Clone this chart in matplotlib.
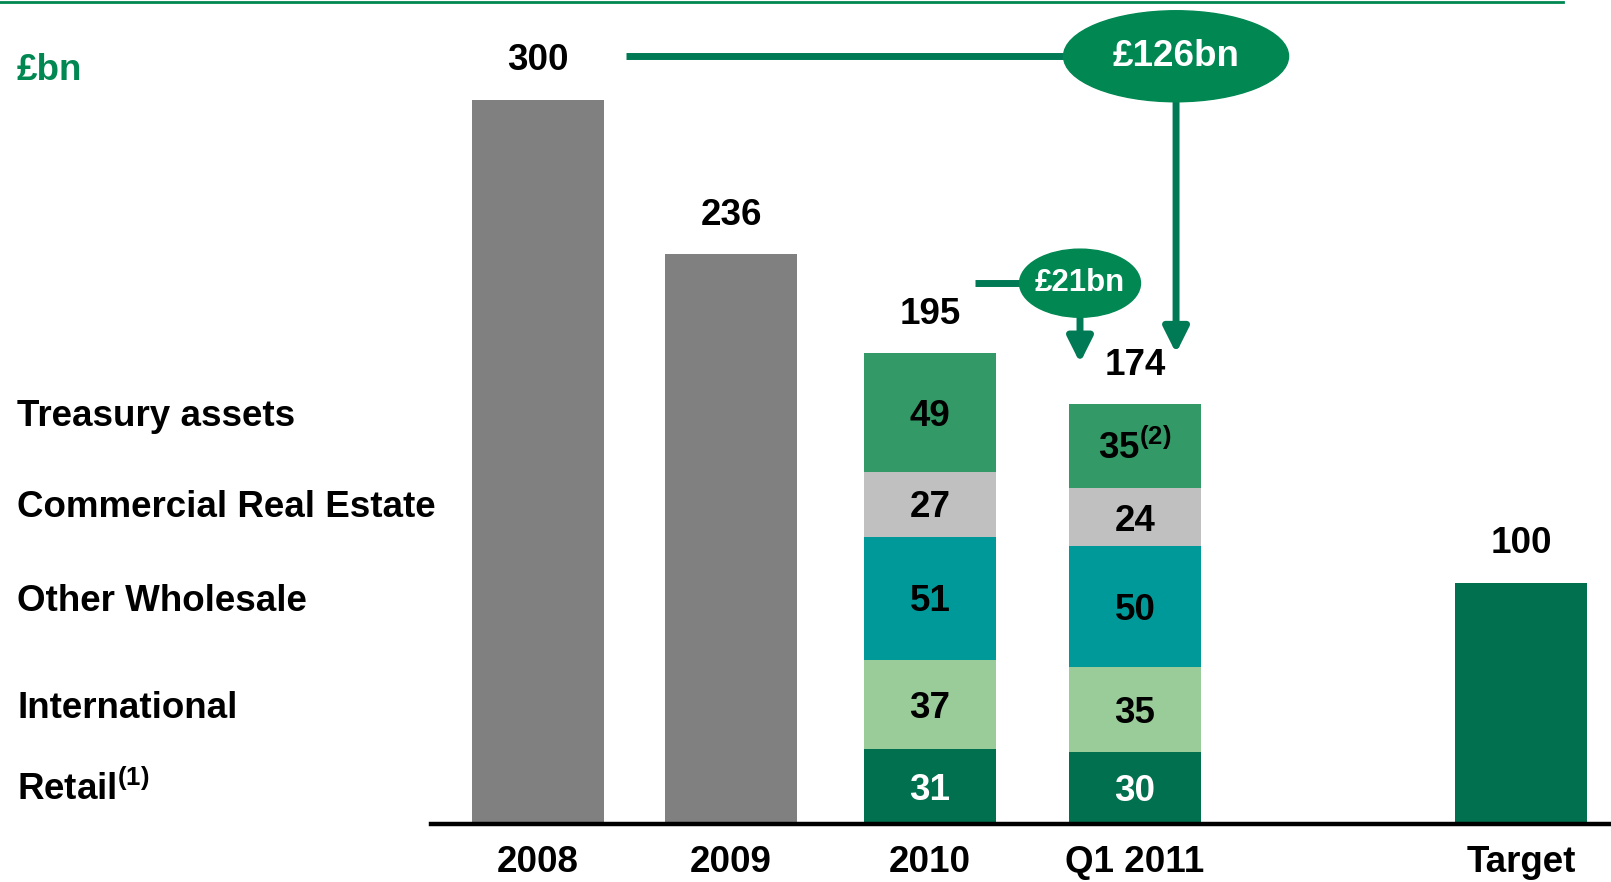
import matplotlib
matplotlib.use('Agg')
import matplotlib.pyplot as plt
import matplotlib.transforms as mtransforms
from matplotlib.lines import Line2D
from matplotlib.patches import Ellipse
import numpy as np

plt.rcParams['font.family'] = 'Liberation Sans'
plt.rcParams['font.weight'] = 'bold'
plt.rcParams['mathtext.fontset'] = 'custom'
plt.rcParams['mathtext.rm'] = 'Liberation Sans:bold'
plt.rcParams['mathtext.it'] = 'Liberation Sans:bold'
plt.rcParams['mathtext.bf'] = 'Liberation Sans:bold'

# data (GBP bn)
periods = ['2008', '2009', '2010', 'Q1 2011', 'Target']
totals = [300, 236, 195, 174, 100]

segments = ['Retail$^{(1)}$', 'International', 'Other Wholesale',
            'Commercial Real Estate', 'Treasury assets']
seg_2010 = [31, 37, 51, 27, 49]
seg_q1_2011 = [30, 35, 50, 24, 35]
seg_q1_2011_labels = ['30', '35', '50', '24', '35$^{(2)}$']

reduction_total = '£126bn'
reduction_q1 = '£21bn'

# layout: bar slots (Target sits after an empty slot)
x_pos = [0, 0.985, 2, 3.045, 5.015]

# colours
GREEN = '#008752'
LINE = '#007A55'
GRAY = '#808080'
DARK = '#00704F'
seg_colors = [DARK, '#99CC99', '#009999', '#C0C0C0', '#339966']
seg_text = ['white', 'black', 'black', 'black', 'black']

FS = 26.5
W = 0.67

fig = plt.figure(figsize=(16.11, 8.82), dpi=100)
ax = fig.add_axes([431 / 1611, 58 / 882, 1 - 431 / 1611, 824 / 882])
ax.set_xlim(-0.546, 5.474)
ax.set_ylim(0, 341.3)

for s in ['top', 'left', 'right']:
    ax.spines[s].set_visible(False)
ax.spines['bottom'].set_linewidth(3.2)
ax.spines['bottom'].set_color('black')
ax.spines['bottom'].set_zorder(5)
ax.set_yticks([])
ax.set_xticks(x_pos, periods, fontsize=FS, fontweight='bold')
ax.tick_params(axis='x', length=0, pad=15)

# plain bars
ax.bar(x_pos[:2], totals[:2], W, color=GRAY)
ax.bar(x_pos[4], totals[4], W, color=DARK)

# stacked bars
for xp, vals, labels in [(x_pos[2], seg_2010, [str(v) for v in seg_2010]),
                         (x_pos[3], seg_q1_2011, seg_q1_2011_labels)]:
    bottom = 0
    for v, c, tc, lab in zip(vals, seg_colors, seg_text, labels):
        ax.bar(xp, v, W, bottom=bottom, color=c)
        ax.annotate(lab, (xp, bottom + v / 2), xytext=(0, -9.5),
                    textcoords='offset points', ha='center', va='baseline',
                    fontsize=FS, color=tc)
        bottom += v

# totals above bars
for xp, t in zip(x_pos, totals):
    ax.annotate(str(t), (xp, t), xytext=(0, 28), textcoords='offset points',
                ha='center', va='center', fontsize=FS, color='black')

# left-hand segment labels, aligned to the 2010 segments
trans = mtransforms.blended_transform_factory(fig.transFigure, ax.transData)
centers = np.cumsum(seg_2010) - np.array(seg_2010) / 2
for name, yc in zip(segments, centers):
    ax.annotate(name, (17 / 1611, yc), xycoords=trans, xytext=(0, -9.5),
                textcoords='offset points', ha='left', va='baseline',
                fontsize=FS, color='black')

# header
fig.add_artist(Line2D([0, 1563 / 1611], [1 - 1.5 / 882] * 2,
                      transform=fig.transFigure, color=GREEN, lw=2))
fig.text(17 / 1611, 1 - 70 / 882, '£bn', color=GREEN, fontsize=FS,
         ha='left', va='center')

# callout: total reduction since 2008
big_y = totals[0] + 18
big_x = x_pos[3] + 0.21
ax.plot([x_pos[0] + 0.45, big_x], [big_y, big_y], color=LINE, lw=5,
        solid_capstyle='butt', zorder=3, clip_on=False)
ax.annotate('', xy=(big_x, totals[3] + 21), xytext=(big_x, big_y),
            arrowprops=dict(arrowstyle='-|>', color=LINE, lw=5,
                            mutation_scale=38, shrinkA=0, shrinkB=0),
            zorder=3)
ax.add_patch(Ellipse((big_x, big_y), 1.148, 37.7, color=GREEN, zorder=4,
                     clip_on=False))
ax.text(big_x, big_y, reduction_total, ha='center', va='center',
        fontsize=FS, color='white', zorder=5)

# callout: reduction in Q1 2011
small_y = totals[2] + 29
small_x = x_pos[2] + 0.765
ax.plot([x_pos[2] + 0.23, small_x], [small_y, small_y], color=LINE, lw=5,
        solid_capstyle='butt', zorder=3)
ax.annotate('', xy=(small_x, totals[3] + 17), xytext=(small_x, small_y),
            arrowprops=dict(arrowstyle='-|>', color=LINE, lw=5,
                            mutation_scale=38, shrinkA=0, shrinkB=0),
            zorder=3)
ax.add_patch(Ellipse((small_x, small_y), 0.617, 28.2, color=GREEN, zorder=4))
ax.text(small_x, small_y, reduction_q1, ha='center', va='center',
        fontsize=22.5, color='white', zorder=5)

fig.savefig('out.png', dpi=100)
